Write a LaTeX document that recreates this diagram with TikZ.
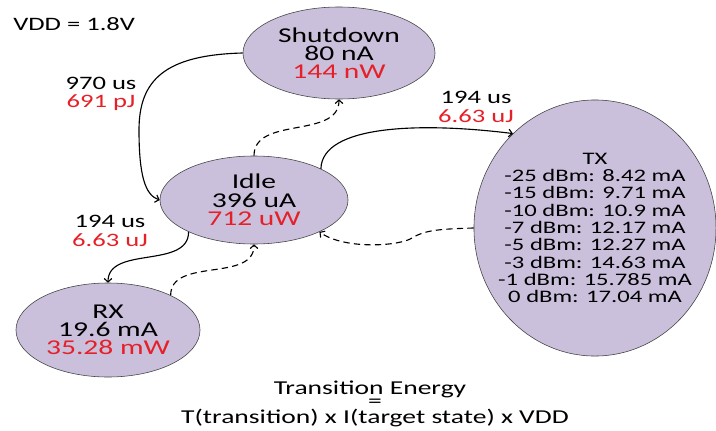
\documentclass[tikz,border=0pt]{standalone}
\usepackage{fontspec}
\setmainfont[FakeStretch=1.4]{Carlito}
\usetikzlibrary{arrows.meta,shapes.geometric}
\definecolor{statefill}{RGB}{202,192,220}
\definecolor{pwr}{RGB}{230,32,40}

\begin{document}
\begin{tikzpicture}[x=0.025cm,y=0.025cm,
	state/.style={ellipse,draw=black!75,fill=statefill,inner sep=0pt,align=center,font=\fontsize{15}{13}\selectfont},
	lbl/.style={align=center,inner sep=0pt,font=\fontsize{13.5}{13}\selectfont},
	formula/.style={anchor=base,inner sep=0pt,font=\fontsize{14}{14}\selectfont},
	trans/.style={line width=0.8pt,-{Straight Barb[length=2.5pt,width=5.5pt]}},
	back/.style={trans,dash pattern=on 4.5pt off 3pt}]
		\useasboundingbox (0,0) rectangle (716,430);

		\node[state,minimum width=4.8cm,minimum height=2.3cm] (sd) at (339,377) {Shutdown\\80 nA\\\textcolor{pwr}{144 nW}};
		\node[state,minimum width=4.7cm,minimum height=2.2cm] (idle) at (254,230) {Idle\\396 uA\\\textcolor{pwr}{712 uW}};
		\node[state,minimum width=4.6cm,minimum height=2.35cm] (rx) at (108,100) {RX\\19.6 mA\\\textcolor{pwr}{35.28 mW}};
		\node[state,minimum width=6.05cm,minimum height=6.4cm,inner xsep=-8pt,font=\fontsize{12.5}{12.3}\selectfont] (tx) at (595,202)
			{TX\\-25 dBm: 8.42 mA\\-15 dBm: 9.71 mA\\-10 dBm: 10.9 mA\\-7 dBm: 12.17 mA\\-5 dBm: 12.27 mA\\-3 dBm: 14.63 mA\\-1 dBm: 15.785 mA\\0 dBm: 17.04 mA};

		\node[lbl,anchor=west] (vdd) at (13,406) {VDD = 1.8V};
		\node[lbl] (tsd) at (101,336) {970 us\\\textcolor{pwr}{691 pJ}};
		\node[lbl] (ttx) at (476,323) {194 us\\\textcolor{pwr}{6.63 uJ}};
		\node[lbl] (trx) at (110,199) {194 us\\\textcolor{pwr}{6.63 uJ}};

		\draw[trans] (sd.west) .. controls (165,375) and (139,350) .. (139,300) .. controls (139,255) and (145,235) .. (idle.west);
		\draw[back] (idle.north) to[out=90,in=-90] (sd.south);
		\draw[trans] (idle.25) .. controls (322,305) and (420,308) .. (tx.131);
		\draw[back] (tx.west) .. controls (440,201) and (425,200) .. (412,192) .. controls (400,184) and (345,180) .. (idle.-26);
		\draw[trans] (idle.206) to[out=-90,in=90] (rx.north);
		\draw[back] (rx.29) to[out=90,in=-90] (idle.south);

		\node[formula] (eq1) at (370,36) {Transition Energy};
		\node[formula] (eq2) at (375,23) {=};
		\node[formula] (eq3) at (375,7) {T(transition) x I(target state) x VDD};

\end{tikzpicture}
\end{document}
